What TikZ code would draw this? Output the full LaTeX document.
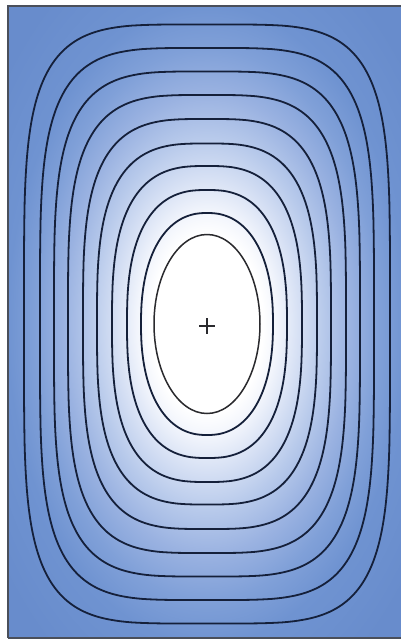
\documentclass[tikz,border=0pt]{standalone}
\definecolor{linecol}{HTML}{15203A}
\definecolor{innercol}{HTML}{2A2A2E}
\definecolor{bordercol}{HTML}{4A4F5A}
\definecolor{sa}{HTML}{F2F5FC}
\definecolor{sb}{HTML}{D6E0F4}
\definecolor{sc}{HTML}{B8CAEB}
\definecolor{sd}{HTML}{9AB2E1}
\definecolor{se}{HTML}{80A0D8}
\definecolor{sf}{HTML}{6F93D1}
\definecolor{sg}{HTML}{688CCC}
\pgfdeclareradialshading{fieldshade}{\pgfpoint{0bp}{0bp}}{%
color(0bp)=(white); color(7bp)=(white); color(8.8bp)=(sa); color(11.5bp)=(sb);
color(14.5bp)=(sc); color(18bp)=(sd); color(21.5bp)=(se); color(25bp)=(sf);
color(32bp)=(sg); color(50bp)=(sg)}
\begin{document}
\begin{tikzpicture}[x=1pt,y=-1pt,
  contour/.style={draw=linecol, line width=1.8pt},
  innercontour/.style={draw=innercol, line width=1.5pt},
  framestyle/.style={draw=bordercol, line width=1.3pt},
  plusstyle/.style={draw=innercol, line width=1.3pt}]
\useasboundingbox (0,0) rectangle (401,640);
\fill[white] (0,0) rectangle (401,640);
\begin{scope}
  \clip (8,6) rectangle (401,638);
  \shade[shading=fieldshade] (7,4) rectangle (407,644);
\end{scope}
\draw[framestyle] (8,638) -- (8,6) -- (402,6);
\draw[framestyle] (8,638) -- (402,638);
\coordinate (c) at (207,324);
% inner ellipse
\draw[innercontour] (c) ellipse [x radius=53pt, y radius=89.5pt];
% nested superellipses
\foreach \a/\b/\n in {66/111/2.28, 80/134/2.56, 95/158/2.83, 110/180.5/3.11, 124/205/3.39, 139/229/3.67, 153/252.5/3.94, 167/276/4.22, 183/299.5/4.5}{
  \draw[contour] plot[domain=0:360, samples=241, variable=\t]
   ({207+\a*sign(cos(\t))*(abs(cos(\t))+0.0001)^(2/\n)},
    {324+\b*sign(sin(\t))*(abs(sin(\t))+0.0001)^(2/\n)}) -- cycle;
}
\draw[plusstyle] (199,326) -- (215,326) (207,318) -- (207,334);
\end{tikzpicture}
\end{document}
